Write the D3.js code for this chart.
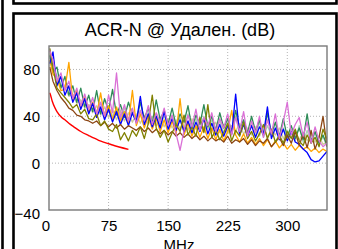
<!DOCTYPE html>
<html>
<head>
<meta charset="utf-8">
<script src="https://cdn.jsdelivr.net/npm/d3@7"></script>
<style>
  body { margin: 0; background: #fff; }
  svg { display: block; font-family: Arial, "Liberation Sans", sans-serif; }
</style>
</head>
<body>
<svg id="chart" width="338" height="249"></svg>
<script>
// frequency points (MHz)
const freqs = [1, 5, 10, 15, 20, 25, 30, 35, 40, 45, 50, 55, 60, 65, 70, 75, 80, 85, 90, 95,
  100, 105, 110, 115, 120, 125, 130, 135, 140, 145, 150, 155, 160, 165, 170, 175, 180, 185, 190, 195,
  200, 205, 210, 215, 220, 225, 230, 235, 240, 245, 250, 255, 260, 265, 270, 275, 280, 285, 290, 295,
  300, 305, 310, 315, 320, 325, 330, 335, 340, 345, 350];

// pair traces, dB
const lightGreen = [90, 86, 74, 72, 65, 64, 58, 58, 53, 54, 48,
  50, 44, 51, 42, 48, 40, 46, 38, 47, 37,
  44, 36, 45, 35, 43, 34, 42, 33, 40, 32,
  41, 31, 39, 30, 42, 29, 38, 28, 40, 29,
  37, 27, 36, 26, 35, 25, 40, 26, 34, 24,
  33, 23, 35, 22, 32, 24, 34, 21, 30, 20,
  29, 19, 32, 18, 28, 17, 26, 15, 23, 14];
const khaki = [94, 78, 74, 66, 65, 57, 59, 51, 54, 47, 50,
  43, 49, 41, 48, 39, 46, 37, 45, 36, 43,
  35, 42, 34, 41, 33, 40, 32, 39, 31, 38,
  30, 37, 29, 36, 28, 38, 29, 35, 27, 33,
  28, 35, 26, 33, 25, 32, 27, 34, 25, 30,
  24, 31, 23, 32, 22, 29, 24, 30, 21, 28,
  22, 27, 20, 26, 19, 25, 18, 23, 16, 18];
const seaGreen = [92, 78, 82, 64, 74, 58, 66, 52, 64, 48, 58,
  44, 62, 42, 55, 45, 63, 41, 50, 39, 52,
  42, 36, 52, 38, 47, 34, 54, 37, 45, 33,
  47, 32, 42, 35, 49, 30, 41, 33, 50, 31,
  40, 28, 43, 30, 38, 27, 45, 29, 37, 26,
  40, 27, 37, 24, 43, 25, 35, 23, 38, 22,
  32, 21, 30, 20, 42, 19, 27, 17, 24, 15];
const orange = [88, 76, 72, 62, 63, 86, 53, 62, 47, 56, 43,
  52, 41, 60, 39, 49, 37, 48, 36, 44, 34,
  62, 32, 42, 30, 40, 29, 38, 27, 37, 26,
  36, 25, 55, 24, 34, 23, 32, 22, 31, 21,
  30, 20, 29, 19, 27, 45, 24, 18, 25, 17,
  22, 16, 21, 15, 20, 14, 19, 13, 17, 12,
  16, 11, 15, 12, 14, 10, 13, 9, 12, 10];
const blue = [85, 95, 66, 74, 58, 66, 52, 60, 46, 55, 42,
  51, 39, 48, 37, 46, 35, 44, 33, 42, 32,
  43, 35, 57, 33, 42, 31, 40, 30, 44, 29,
  38, 28, 37, 27, 36, 26, 35, 27, 38, 25,
  34, 24, 33, 23, 32, 25, 59, 24, 33, 23,
  32, 22, 31, 24, 48, 21, 30, 20, 29, 19,
  27, 18, 16, 12, 9, 3, 1, 2, 6, 10];
const brown = [82, 70, 62, 56, 52, 47, 45, 41, 40, 37, 36,
  34, 36, 32, 35, 31, 34, 30, 33, 29, 32,
  30, 28, 31, 27, 30, 26, 29, 25, 28, 24,
  27, 23, 26, 22, 25, 21, 24, 20, 23, 19,
  22, 19, 21, 18, 23, 17, 20, 18, 21, 16,
  20, 15, 19, 17, 21, 14, 18, 22, 15, 24,
  17, 27, 15, 25, 13, 28, 12, 22, 40, 14];
const olive = [98, 82, 64, 60, 56, 52, 47, 50, 42, 46, 38,
  37, 42, 32, 36, 29, 27, 33, 20, 26, 19,
  28, 23, 31, 21, 34, 58, 30, 22, 28, 18,
  26, 33, 27, 41, 24, 31, 23, 39, 26, 50,
  22, 28, 20, 26, 34, 19, 28, 23, 35, 21,
  27, 19, 25, 33, 21, 29, 18, 24, 17, 27,
  21, 29, 19, 15, 24, 17, 22, 14, 29, 20];
const orchid = [96, 88, 70, 77, 62, 70, 55, 64, 49, 59, 46,
  56, 42, 52, 40, 58, 43, 77, 39, 50, 36,
  47, 34, 45, 36, 49, 33, 43, 35, 47, 32,
  41, 25, 11, 28, 41, 31, 46, 28, 39, 32,
  43, 27, 38, 30, 42, 24, 39, 27, 44, 23,
  36, 26, 40, 22, 37, 25, 42, 21, 35, 52,
  24, 33, 39, 23, 35, 17, 31, 19, 14, 17];

// limit line
const limitFreqs = [1, 2, 4, 8, 10, 16, 20, 25, 31.25, 40, 50, 62.5, 80, 100];
const limitVals = [60, 58, 53, 46.5, 44, 39, 37, 34, 31, 27, 23.5, 19.5, 15.5, 11.7];

const series = [
  { name: 'p1', values: lightGreen, color: '#a9d3b6' },
  { name: 'p2', values: khaki, color: '#cfcb9c' },
  { name: 'p3', values: seaGreen, color: '#2e8b57' },
  { name: 'p4', values: orange, color: '#ffa500' },
  { name: 'p5', values: blue, color: '#0000ff' },
  { name: 'p6', values: brown, color: '#8b4513' },
  { name: 'p7', values: olive, color: '#808000' },
  { name: 'p8', values: orchid, color: '#da70d6' }
];

const xTicks = [0, 75, 150, 225, 300];
const yTicks = [-40, 0, 40, 80];

const svg = d3.select('#chart');

// panel frames
svg.append('line').attr('x1', 2.5).attr('y1', -5).attr('x2', 2.5).attr('y2', 260)
  .attr('stroke', '#000').attr('stroke-width', 2.6);
svg.append('rect').attr('x', 13.5).attr('y', -20).attr('width', 323).attr('height', 23.5)
  .attr('fill', 'none').attr('stroke', '#000').attr('stroke-width', 2.6);
svg.append('rect').attr('x', 13.5).attr('y', 13.5).attr('width', 323).attr('height', 260)
  .attr('fill', 'none').attr('stroke', '#000').attr('stroke-width', 2.6);

const plotL = 49, plotR = 327, plotT = 46, plotB = 210;
const x = d3.scaleLinear().domain([0, 350]).range([plotL, plotR]);
const y = d3.scaleLinear().domain([-40, 100]).range([plotB, plotT]);

// grid
svg.append('g').selectAll('line').data(xTicks.slice(1)).enter().append('line')
  .attr('x1', d => x(d)).attr('x2', d => x(d)).attr('y1', plotT).attr('y2', plotB)
  .attr('stroke', '#b4b4b4').attr('stroke-dasharray', '1,2');
svg.append('g').selectAll('line').data(yTicks.slice(1)).enter().append('line')
  .attr('x1', plotL).attr('x2', plotR).attr('y1', d => y(d)).attr('y2', d => y(d))
  .attr('stroke', '#b4b4b4').attr('stroke-dasharray', '1,2');

svg.append('clipPath').attr('id', 'plotclip').append('rect')
  .attr('x', plotL).attr('y', plotT).attr('width', plotR - plotL).attr('height', plotB - plotT);

const line = d3.line().x((d, i) => x(freqs[i])).y(d => y(d));
const plot = svg.append('g').attr('clip-path', 'url(#plotclip)');
plot.selectAll('path.trace').data(series).enter().append('path')
  .attr('class', 'trace')
  .attr('d', d => line(d.values))
  .attr('fill', 'none')
  .attr('stroke', d => d.color)
  .attr('stroke-width', 1.3)
  .attr('stroke-linejoin', 'round');

const limitLine = d3.line().x((d, i) => x(limitFreqs[i])).y(d => y(d)).curve(d3.curveMonotoneX);
plot.append('path').attr('d', limitLine(limitVals))
  .attr('fill', 'none').attr('stroke', '#ff0000').attr('stroke-width', 1.4);

// plot frame
svg.append('rect').attr('x', plotL).attr('y', plotT).attr('width', plotR - plotL).attr('height', plotB - plotT)
  .attr('fill', 'none').attr('stroke', '#7a7a7a').attr('stroke-width', 1.4);

// axes
const xAxis = svg.append('g').attr('transform', `translate(0,${plotB})`)
  .call(d3.axisBottom(x).tickValues(xTicks).tickSize(0).tickPadding(0));
xAxis.select('.domain').remove();
xAxis.selectAll('text').attr('y', 21).attr('dy', 0)
  .attr('font-size', 15).attr('fill', '#000')
  .attr('dx', d => d === 0 ? -3.5 : 0);

const yAxis = svg.append('g').attr('transform', `translate(${plotL},0)`)
  .call(d3.axisLeft(y).tickValues(yTicks).tickSize(0).tickPadding(0));
yAxis.select('.domain').remove();
yAxis.selectAll('text').attr('x', -9).attr('dy', d => d === -40 ? 8.5 : 5.3)
  .attr('font-size', 15).attr('fill', '#000');

svg.append('text').attr('x', 180).attr('y', 36).attr('text-anchor', 'middle')
  .attr('font-size', 18).text('ACR-N @ Удален. (dB)');
svg.append('text').attr('x', 179).attr('y', 250).attr('text-anchor', 'middle')
  .attr('font-size', 15).text('MHz');
</script>
</body>
</html>
